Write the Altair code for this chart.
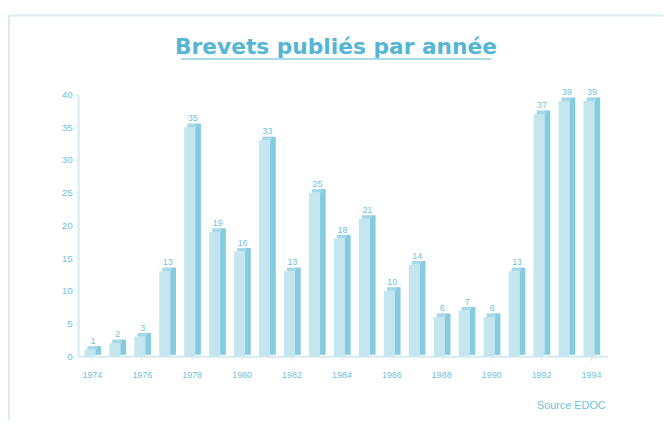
import altair as alt
import pandas as pd

years = list(range(1974, 1995))
values = [1, 2, 3, 13, 35, 19, 16, 33, 13, 25, 18, 21, 10, 14, 6, 7, 6, 13, 37, 39, 39]
tick_years = list(range(1974, 1995, 2))
y_ticks = [0, 5, 10, 15, 20, 25, 30, 35, 40]
title_text = "Brevets publiés par année"
source_text = "Source EDOC"

df = pd.DataFrame({"year": years, "value": values})

FRONT = "#c6e6ef"
SIDE = "#86cce0"
TOP = "#a6d9e8"
TXT = "#6fc2dc"
LINE = "#d3ebf3"
DEPTH = 0.55

xs = alt.Scale(domain=[1973.45, 1994.67], nice=False, zero=False)
ys = alt.Scale(domain=[0, 40], nice=False)

ax_x = alt.Axis(
    values=tick_years, format="d", title=None, labelColor=TXT,
    labelFont="Liberation Sans", labelFontSize=9, labelPadding=10,
    domainColor=LINE, domainWidth=2, tickColor=LINE, tickSize=4, grid=False)
ax_y = alt.Axis(
    values=y_ticks, title=None, labelColor=TXT, labelOverlap=False,
    labelFont="Liberation Sans", labelFontSize=10, labelPadding=3,
    domainColor=LINE, domainWidth=2, tickColor=LINE, tickSize=3, grid=False)

base = alt.Chart(df)

front = base.mark_bar(color=FRONT).encode(
    x=alt.X("x1:Q", scale=xs, axis=ax_x),
    x2="x2:Q",
    y=alt.Y("value:Q", scale=ys, axis=ax_y),
    y2=alt.datum(0),
).transform_calculate(x1="datum.year - 0.3", x2="datum.year + 0.14")

side = base.mark_bar(color=SIDE).encode(
    x=alt.X("sx1:Q", scale=xs, axis=ax_x),
    x2="sx2:Q",
    y=alt.Y("sy1:Q", scale=ys, axis=ax_y),
    y2="sy2:Q",
).transform_calculate(
    sx1="datum.year + 0.14", sx2="datum.year + 0.37",
    sy1="datum.value + %f" % DEPTH, sy2="%f" % (DEPTH * 0.4))

top = base.mark_bar(color=TOP).encode(
    x=alt.X("tx1:Q", scale=xs, axis=ax_x),
    x2="tx2:Q",
    y=alt.Y("ty1:Q", scale=ys, axis=ax_y),
    y2="value:Q",
).transform_calculate(
    tx1="datum.year - 0.18", tx2="datum.year + 0.2",
    ty1="datum.value + %f" % DEPTH)

labels = base.mark_text(color=TXT, font="Liberation Sans", fontSize=9, dy=-9, dx=1).encode(
    x=alt.X("year:Q", scale=xs, axis=ax_x),
    y=alt.Y("value:Q", scale=ys, axis=ax_y),
    text=alt.Text("value:Q"),
)

title = alt.Chart(pd.DataFrame({"t": [title_text]})).mark_text(
    color="#55b5d5", font="DejaVu Sans", fontSize=22, fontWeight="bold",
    align="center", baseline="alphabetic").encode(
    x=alt.value(261), y=alt.value(-41), text="t:N")

underline = alt.Chart(pd.DataFrame({"a": [0]})).mark_rule(color="#8fd0e3", strokeWidth=1.5).encode(
    x=alt.value(104), x2=alt.value(418), y=alt.value(-36))

source = alt.Chart(pd.DataFrame({"t": [source_text]})).mark_text(
    color=TXT, font="Liberation Sans", fontSize=11, align="right", baseline="middle").encode(
    x=alt.value(534), y=alt.value(315), text="t:N")

frame_top = alt.Chart(pd.DataFrame({"a": [0]})).mark_rule(color="#d9edf5", strokeWidth=2).encode(
    x=alt.value(-70), x2=alt.value(600), y=alt.value(-80))
frame_left = alt.Chart(pd.DataFrame({"a": [0]})).mark_rule(color="#d9edf5", strokeWidth=2).encode(
    x=alt.value(-70), y=alt.value(-80), y2=alt.value(330))

chart = alt.layer(front, frame_top, frame_left, side, top, labels, title, underline, source).properties(
    width=536, height=265,
    padding={"left": 71, "top": 85, "right": 56, "bottom": 62},
    autosize=alt.AutoSizeParams(type="none"),
    background="white",
).configure_view(stroke=None)

chart.save("out.html", embed_options={"renderer": "svg", "actions": False})
